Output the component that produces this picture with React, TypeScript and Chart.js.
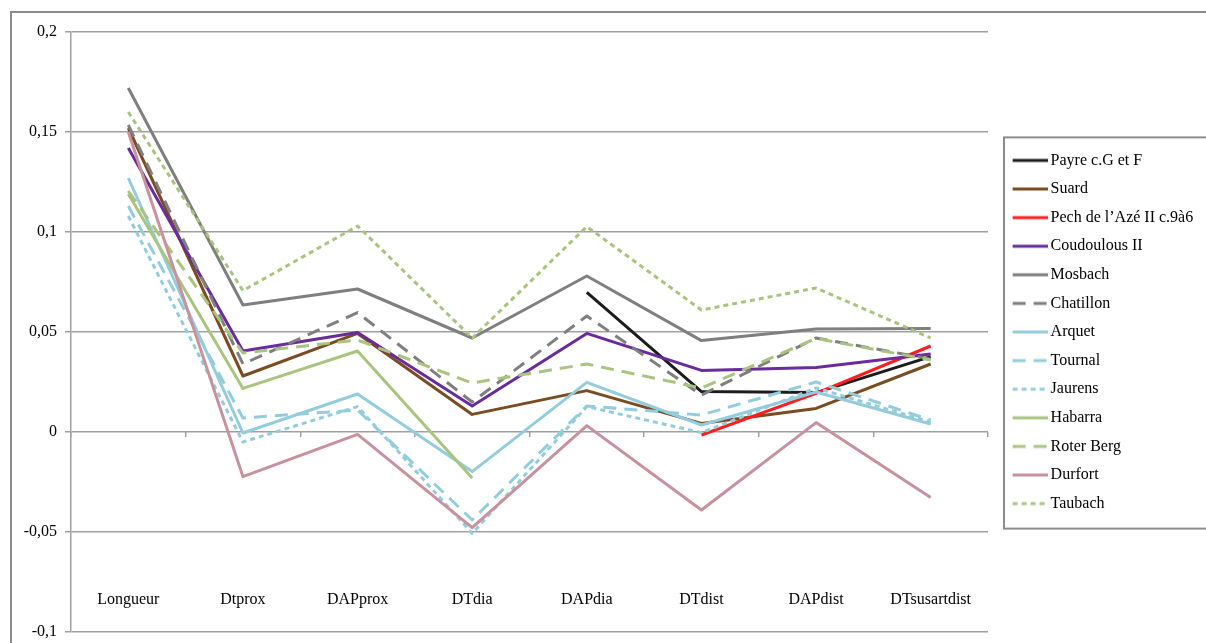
import React, { useEffect, useRef } from 'react';
import { Chart, registerables } from 'chart.js';

Chart.register(...registerables);

const categories = ['Longueur', 'Dtprox', 'DAPprox', 'DTdia', 'DAPdia', 'DTdist', 'DAPdist', 'DTsusartdist'];

const payre = [null, null, null, null, 0.0698, 0.0202, 0.0197, 0.0377];
const suard = [0.152, 0.028, 0.0493, 0.0088, 0.0207, 0.0043, 0.0118, 0.034];
const pech = [null, null, null, null, null, -0.0015, 0.0193, 0.043];
const coudoulous = [0.142, 0.0405, 0.0497, 0.013, 0.0493, 0.0308, 0.0323, 0.039];
const mosbach = [0.172, 0.0635, 0.0715, 0.047, 0.078, 0.0457, 0.0515, 0.0518];
const chatillon = [0.1535, 0.034, 0.0597, 0.015, 0.058, 0.0185, 0.047, 0.0365];
const arquet = [0.127, -0.0005, 0.019, -0.0198, 0.0248, 0.0035, 0.02, 0.004];
const tournal = [0.113, 0.007, 0.011, -0.044, 0.013, 0.0085, 0.025, 0.006];
const jaurens = [0.108, -0.005, 0.0127, -0.0507, 0.0127, -0.0003, 0.022, 0.005];
const habarra = [0.119, 0.0218, 0.0405, -0.023, null, null, null, null];
const roterBerg = [0.1205, 0.0395, 0.046, 0.0245, 0.034, 0.022, 0.0468, 0.036];
const durfort = [0.15, -0.0223, -0.0012, -0.0478, 0.0032, -0.039, 0.0047, -0.0328];
const taubach = [0.16, 0.0707, 0.103, 0.047, 0.1027, 0.061, 0.072, 0.047];

const seriesNames = [
  'Payre c.G et F', 'Suard', 'Pech de l\u2019Azé II c.9à6', 'Coudoulous II', 'Mosbach', 'Chatillon',
  'Arquet', 'Tournal', 'Jaurens', 'Habarra', 'Roter Berg', 'Durfort', 'Taubach',
];
const seriesValues = [payre, suard, pech, coudoulous, mosbach, chatillon, arquet, tournal, jaurens, habarra, roterBerg, durfort, taubach];

const yTicks = [-0.1, -0.05, 0, 0.05, 0.1, 0.15, 0.2];

const GRAY = '#7f7f7f';
const BLUE = '#93cddd';
const GREEN = '#a9c47f';
const DASH = [13, 8];
const DOT = [5, 4];
const seriesColors = ['#1c1c1c', '#7b4b21', '#ff1c1c', '#6a2c9c', GRAY, GRAY, BLUE, BLUE, BLUE, GREEN, GREEN, '#c8919e', GREEN];
const seriesDash = [[], [], [], [], [], DASH, [], DASH, DOT, [], DASH, [], DOT];

const FONT = "'Liberation Serif', 'Times New Roman', serif";
const GRID = '#a0a0a0';

function makeSample(color: string, dash: number[]) {
  const c = document.createElement('canvas');
  c.width = 52;
  c.height = 6;
  const ctx = c.getContext('2d')!;
  ctx.strokeStyle = color;
  ctx.lineWidth = 3;
  ctx.setLineDash(dash);
  ctx.beginPath();
  ctx.moveTo(17, 3);
  ctx.lineTo(52, 3);
  ctx.stroke();
  return c;
}

const framePlugin = {
  id: 'frame',
  afterInit(chart: any) {
    const lg = chart.legend;
    if (lg) {
      const orig = lg.fit.bind(lg);
      lg.fit = () => {
        orig();
        lg.width = 218;
      };
    }
  },
  beforeDraw(chart: any) {
    const ctx = chart.ctx;
    ctx.save();
    ctx.strokeStyle = '#8c8c8c';
    ctx.lineWidth = 2;
    ctx.strokeRect(11, 12, 1300, 800);
    const lg = chart.legend;
    if (lg && lg.legendHitBoxes && lg.legendHitBoxes.length) {
      const hb = lg.legendHitBoxes;
      const top = hb[0].top - 15;
      const bottom = hb[hb.length - 1].top + 33;
      ctx.strokeRect(lg.left + 16, top, 400, bottom - top);
    }
    ctx.restore();
  },
};

export default function App() {
  const ref = useRef<HTMLCanvasElement>(null);

  useEffect(() => {
    if (!ref.current) return;
    const samples = seriesNames.map((_, i) => makeSample(seriesColors[i], seriesDash[i]));
    const datasets = seriesNames.map((name, i) => ({
      label: name,
      data: seriesValues[i],
      borderColor: seriesColors[i],
      backgroundColor: seriesColors[i],
      borderWidth: 3,
      borderDash: seriesDash[i],
      borderCapStyle: 'butt',
      borderJoinStyle: 'round',
      pointRadius: 0,
      pointHoverRadius: 0,
      tension: 0,
      fill: false,
      spanGaps: false,
      order: seriesNames.length - i,
      xAxisID: 'x',
      yAxisID: 'y',
    }));

    const chart = new Chart(ref.current, {
      type: 'line',
      data: { labels: categories, datasets: datasets as any },
      options: {
        animation: false,
        responsive: false,
        devicePixelRatio: 1,
        layout: { padding: { left: 11, top: 32, right: 0, bottom: 11 } },
        scales: {
          y: {
            type: 'linear',
            position: 'left',
            min: -0.1,
            max: 0.2,
            afterFit: (s: any) => {
              s.width = 60;
              s.paddingTop = 0;
              s.paddingBottom = 0;
            },
            afterBuildTicks: (s: any) => { s.ticks = yTicks.map((v) => ({ value: v })); },
            ticks: {
              padding: 8,
              color: '#000',
              font: { family: FONT, size: 16 },
              callback: (v: any) => String(Math.round(Number(v) * 100) / 100).replace('.', ','),
            },
            grid: { color: GRID, lineWidth: 1.5, tickLength: 6, drawTicks: true },
            border: { display: true, color: GRID, width: 1.5 },
          },
          x: {
            type: 'category',
            position: { y: -0.075 } as any,
            offset: true,
            grid: { display: false },
            border: { display: false },
            ticks: {
              padding: 0,
              color: '#000',
              font: { family: FONT, size: 16 },
              maxRotation: 0,
              autoSkip: false,
            },
          },
          x2: {
            type: 'category',
            position: { y: 0 } as any,
            offset: true,
            grid: { offset: true, drawOnChartArea: false, drawTicks: true, tickLength: 5, color: GRID, lineWidth: 1.5 },
            border: { display: false },
            ticks: { display: false },
          },
        },
        plugins: {
          tooltip: { enabled: false },
          legend: {
            position: 'right',
            labels: {
              color: '#000',
              font: { family: FONT, size: 16 },
              padding: 12.6,
              usePointStyle: true,
              pointStyleWidth: 42,
              generateLabels: () =>
                seriesNames.map((name, i) => ({
                  text: name,
                  datasetIndex: i,
                  fillStyle: seriesColors[i],
                  strokeStyle: seriesColors[i],
                  lineWidth: 0,
                  hidden: false,
                  pointStyle: samples[i] as any,
                  fontColor: '#000',
                })),
            },
          },
        },
      } as any,
      plugins: [framePlugin as any],
    });
    return () => chart.destroy();
  }, []);

  return (
    <div style={{ position: 'fixed', left: 0, top: 0, width: 1206, height: 643, background: '#fff' }}>
      <canvas ref={ref} width={1206} height={643} style={{ display: 'block', width: 1206, height: 643 }} />
    </div>
  );
}
